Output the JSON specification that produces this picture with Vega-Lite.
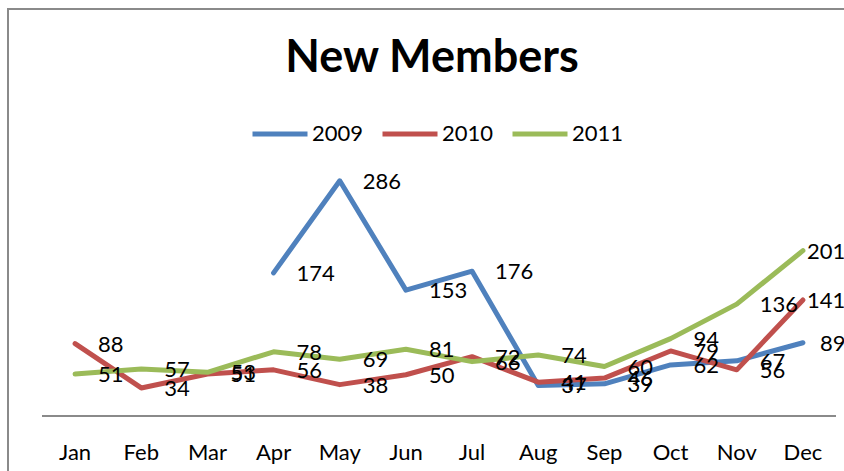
{
  "$schema": "https://vega.github.io/schema/vega-lite/v6.json",
  "width": 862,
  "height": 471,
  "autosize": {"type": "none"},
  "padding": {"left": 8, "top": 9, "right": 0, "bottom": 0},
  "background": "white",
  "config": {"view": {"stroke": "#8a8a8a", "strokeWidth": 2}, "font": "Lato"},
  "title": {"text": "New Members", "fontSize": 45, "fontWeight": "bold", "color": "black", "anchor": "middle", "frame": "group", "offset": 0, "dy": 108, "dx": -7, "baseline": "alphabetic"},
  "data": {"values": [
    {"month": "Apr", "year": "2009", "value": 174},
    {"month": "May", "year": "2009", "value": 286},
    {"month": "Jun", "year": "2009", "value": 153},
    {"month": "Jul", "year": "2009", "value": 176},
    {"month": "Aug", "year": "2009", "value": 37},
    {"month": "Sep", "year": "2009", "value": 39},
    {"month": "Oct", "year": "2009", "value": 62},
    {"month": "Nov", "year": "2009", "value": 67},
    {"month": "Dec", "year": "2009", "value": 89},
    {"month": "Jan", "year": "2010", "value": 88},
    {"month": "Feb", "year": "2010", "value": 34},
    {"month": "Mar", "year": "2010", "value": 51},
    {"month": "Apr", "year": "2010", "value": 56},
    {"month": "May", "year": "2010", "value": 38},
    {"month": "Jun", "year": "2010", "value": 50},
    {"month": "Jul", "year": "2010", "value": 72},
    {"month": "Aug", "year": "2010", "value": 41},
    {"month": "Sep", "year": "2010", "value": 46},
    {"month": "Oct", "year": "2010", "value": 79},
    {"month": "Nov", "year": "2010", "value": 56},
    {"month": "Dec", "year": "2010", "value": 141},
    {"month": "Jan", "year": "2011", "value": 51},
    {"month": "Feb", "year": "2011", "value": 57},
    {"month": "Mar", "year": "2011", "value": 53},
    {"month": "Apr", "year": "2011", "value": 78},
    {"month": "May", "year": "2011", "value": 69},
    {"month": "Jun", "year": "2011", "value": 81},
    {"month": "Jul", "year": "2011", "value": 66},
    {"month": "Aug", "year": "2011", "value": 74},
    {"month": "Sep", "year": "2011", "value": 60},
    {"month": "Oct", "year": "2011", "value": 94},
    {"month": "Nov", "year": "2011", "value": 136},
    {"month": "Dec", "year": "2011", "value": 201}
  ]},
  "encoding": {
    "x": {"field": "month", "type": "ordinal", "sort": ["Jan","Feb","Mar","Apr","May","Jun","Jul","Aug","Sep","Oct","Nov","Dec"],
          "scale": {"type": "band", "paddingInner": 0, "paddingOuter": 0.514},
          "axis": {"title": null, "orient": "bottom", "offset": -64, "domain": false, "ticks": false, "grid": false, "labelFontSize": 22, "labelColor": "black", "labelPadding": 26, "labelAngle": 0}},
    "y": {"field": "value", "type": "quantitative", "scale": {"domain": [-78, 495], "nice": false, "zero": false}, "axis": null}
  },
  "layer": [
    {"mark": {"type": "rule", "color": "#8a8a8a", "strokeWidth": 1.5},
     "encoding": {"x": {"datum": "Jan", "bandPosition": 0}, "x2": {"datum": "Dec", "bandPosition": 1}, "y": {"datum": 0}}},
    {"mark": {"type": "line", "strokeWidth": 5, "strokeCap": "round", "strokeJoin": "round"},
     "encoding": {"color": {"field": "year", "type": "nominal",
        "scale": {"domain": ["2009","2010","2011"], "range": ["#4F81BD","#C0504D","#9BBB59"]},
        "legend": {"title": null, "orient": "none", "legendX": 242, "legendY": 95, "direction": "horizontal", "symbolType": "stroke", "symbolSize": 3025, "symbolStrokeWidth": 5, "labelFontSize": 22, "labelColor": "black", "labelOffset": 2, "columnPadding": 8, "padding": 0}}}},
    {"transform": [{"filter": "datum.month != 'Dec'"}],
     "mark": {"type": "text", "align": "left", "baseline": "middle", "dx": 23, "dy": 1, "fontSize": 22, "color": "black"},
     "encoding": {"text": {"field": "value", "type": "quantitative"}}},
    {"transform": [{"filter": "datum.month == 'Dec' && datum.year == '2009'"}],
     "mark": {"type": "text", "align": "left", "baseline": "middle", "dx": 17, "dy": 1, "fontSize": 22, "color": "black"},
     "encoding": {"text": {"field": "value", "type": "quantitative"}}},
    {"transform": [{"filter": "datum.month == 'Dec' && datum.year != '2009'"}],
     "mark": {"type": "text", "align": "left", "baseline": "middle", "dx": 4, "dy": 1, "fontSize": 22, "color": "black"},
     "encoding": {"text": {"field": "value", "type": "quantitative"}}}
  ]
}
